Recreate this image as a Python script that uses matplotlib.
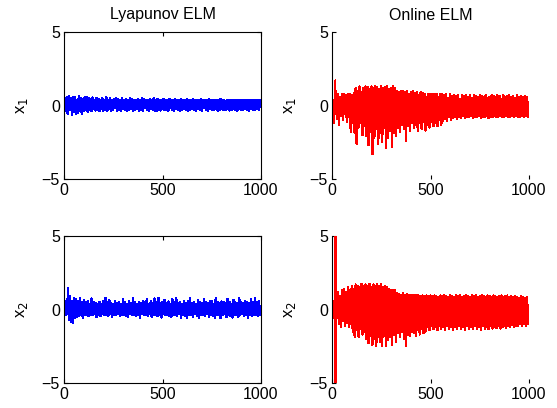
import numpy as np
import matplotlib
matplotlib.use("Agg")
import matplotlib.pyplot as plt

plt.rcParams["font.family"] = ["Liberation Sans", "DejaVu Sans"]

# sample times (denser around the start transient)
t = np.r_[[0, 5, 10, 16.5, 17, 17.5], np.arange(20, 1001, 5)]

# Lyapunov ELM, x1
lyap_x1 = [0.0, 0.5, -0.4, 0.6, -0.5, 0.4,
           -0.6, 0.65, -0.3, 0.5, -0.65, 0.6, -0.45, 0.55, -0.55, 0.4,
           -0.5, 0.62, -0.35, 0.5, -0.6, 0.45, -0.4, 0.6, -0.3, 0.55,
           -0.45, 0.5, -0.3, 0.45, -0.4, 0.55, -0.25, 0.4, -0.35, 0.5,
           -0.3, 0.45, -0.4, 0.35, -0.25, 0.5, -0.35, 0.4, -0.3, 0.55,
           -0.35, 0.4, -0.25, 0.5, -0.4, 0.35, -0.3, 0.45, -0.2, 0.5,
           -0.35, 0.45, -0.3, 0.4, -0.4, 0.5, -0.25, 0.35, -0.3, 0.45,
           -0.4, 0.4, -0.3, 0.5, -0.25, 0.45, -0.35, 0.4, -0.3, 0.35,
           -0.25, 0.45, -0.4, 0.4, -0.3, 0.5, -0.35, 0.45, -0.2, 0.4,
           -0.3, 0.35, -0.35, 0.45, -0.25, 0.4, -0.3, 0.5, -0.35, 0.4,
           -0.4, 0.45, -0.3, 0.35, -0.35, 0.4, -0.25, 0.45, -0.3, 0.4,
           -0.3, 0.4, -0.35, 0.45, -0.2, 0.35, -0.3, 0.4, -0.35, 0.45,
           -0.25, 0.4, -0.3, 0.35, -0.35, 0.45, -0.3, 0.4, -0.25, 0.35,
           -0.3, 0.45, -0.35, 0.4, -0.3, 0.35, -0.25, 0.45, -0.3, 0.4,
           -0.35, 0.4, -0.25, 0.35, -0.3, 0.45, -0.35, 0.4, -0.2, 0.35,
           -0.3, 0.4, -0.35, 0.45, -0.25, 0.35, -0.3, 0.4, -0.3, 0.35,
           -0.25, 0.4, -0.35, 0.35, -0.3, 0.45, -0.25, 0.4, -0.3, 0.35,
           -0.3, 0.35, -0.25, 0.4, -0.35, 0.35, -0.3, 0.4, -0.25, 0.35,
           -0.3, 0.4, -0.35, 0.35, -0.25, 0.4, -0.3, 0.35, -0.3, 0.4,
           -0.25, 0.35, -0.3, 0.4, -0.35, 0.35, -0.25, 0.4, -0.3, 0.35,
           -0.3, 0.4, -0.25, 0.35, -0.3, 0.35, -0.1]

# Lyapunov ELM, x2
lyap_x2 = [0.0, 0.6, -0.4, 0.5, -0.3, 0.4,
           1.45, -0.7, 0.9, -0.85, 0.6, -0.9, 0.8, -0.6, 0.7, -0.5,
           0.6, -0.45, 0.75, -0.4, 0.5, -0.55, 0.65, -0.35, 0.5, -0.4,
           0.55, -0.45, 0.4, -0.35, 0.75, -0.4, 0.5, -0.3, 0.45, -0.5,
           0.4, -0.35, 0.5, -0.45, 0.35, -0.3, 0.6, -0.4, 0.8, -0.35,
           0.5, -0.45, 0.65, -0.3, 0.45, -0.5, 0.4, -0.35, 0.55, -0.4,
           0.45, -0.3, 0.5, -0.45, 0.35, -0.4, 0.7, -0.35, 0.5, -0.45,
           0.4, -0.5, 0.55, -0.3, 0.45, -0.4, 0.8, -0.35, 0.5, -0.45,
           0.35, -0.4, 0.5, -0.55, 0.45, -0.3, 0.6, -0.4, 0.5, -0.35,
           0.7, -0.45, 0.4, -0.3, 0.55, -0.5, 0.45, -0.35, 0.75, -0.4,
           0.5, -0.45, 0.8, -0.35, 0.45, -0.55, 0.5, -0.3, 0.65, -0.4,
           0.45, -0.35, 0.55, -0.45, 0.4, -0.5, 0.7, -0.35, 0.5, -0.4,
           0.8, -0.45, 0.45, -0.3, 0.5, -0.55, 0.4, -0.35, 0.6, -0.45,
           0.45, -0.6, 0.55, -0.35, 0.75, -0.4, 0.45, -0.5, 0.5, -0.3,
           0.4, -0.45, 0.65, -0.55, 0.5, -0.35, 0.45, -0.4, 0.7, -0.45,
           0.5, -0.3, 0.45, -0.5, 0.6, -0.35, 0.55, -0.45, 0.4, -0.55,
           0.75, -0.4, 0.5, -0.35, 0.45, -0.6, 0.55, -0.4, 0.5, -0.3,
           0.45, -0.5, 0.7, -0.35, 0.5, -0.45, 0.4, -0.55, 0.65, -0.4,
           0.5, -0.35, 0.45, -0.5, 0.75, -0.4, 0.5, -0.3, 0.45, -0.45,
           0.6, -0.4, 0.5, -0.55, 0.45, -0.35, 0.7, -0.45, 0.5, -0.4,
           0.8, -0.35, 0.5, -0.45, 0.6, -0.4, 0.2]

# Online ELM, x1
online_x1 = [0.0, 0.4, -1.2, 0.6, 1.7, -0.6,
             0.7, -0.9, 0.8, -1.3, 0.6, -0.7, 0.75, -1.0, 0.8, -0.6,
             0.7, -1.1, 0.8, -0.8, 0.75, -1.8, 0.7, -1.2, 0.85, -1.9,
             1.2, -2.6, 1.0, -1.5, 1.3, -1.2, 0.9, -2.0, 1.2, -1.4,
             1.3, -2.1, 1.25, -2.7, 1.1, -1.8, 1.3, -3.3, 1.2, -2.2,
             1.3, -1.6, 1.25, -2.6, 1.1, -1.9, 1.3, -2.5, 1.2, -1.5,
             1.25, -2.9, 1.3, -2.2, 1.1, -1.7, 1.2, -2.8, 1.3, -1.9,
             1.2, -2.1, 0.95, -1.5, 0.9, -1.8, 1.0, -1.3, 0.95, -1.6,
             0.9, -2.4, 0.95, -1.4, 0.75, -1.7, 0.9, -1.2, 0.95, -1.5,
             0.85, -1.3, 0.9, -1.7, 0.7, -1.2, 0.9, -1.6, 0.85, -1.1,
             0.8, -1.7, 0.6, -1.3, 0.8, -1.5, 0.75, -1.1, 0.8, -1.4,
             0.75, -1.2, 0.8, -1.4, 0.55, -1.0, 0.8, -1.3, 0.75, -1.05,
             0.7, -0.9, 0.75, -1.05, 0.5, -0.8, 0.75, -0.95, 0.65, -0.85,
             0.7, -0.8, 0.65, -0.9, 0.7, -0.75, 0.45, -0.85, 0.7, -0.7,
             0.65, -0.85, 0.7, -0.75, 0.6, -0.8, 0.7, -0.7, 0.5, -0.85,
             0.7, -0.75, 0.65, -0.8, 0.6, -0.7, 0.7, -0.85, 0.65, -0.75,
             0.6, -0.8, 0.7, -0.7, 0.5, -0.85, 0.6, -0.75, 0.7, -0.8,
             0.65, -0.7, 0.6, -0.8, 0.7, -0.75, 0.65, -0.7, 0.45, -0.8,
             0.7, -0.75, 0.6, -0.7, 0.65, -0.8, 0.7, -0.75, 0.6, -0.7,
             0.65, -0.8, 0.5, -0.7, 0.7, -0.75, 0.6, -0.8, 0.65, -0.7,
             0.6, -0.75, 0.65, -0.7, 0.6, -0.75, 0.2]

# Online ELM, x2 (huge transient near t=17)
online_x2 = [0.0, 0.6, -0.6, 0.3, 50.0, -8.0,
             1.1, -0.6, 1.2, -1.0, 0.9, -1.2, 1.3, -0.8, 1.4, -1.1,
             1.2, -0.9, 1.5, -1.2, 1.3, -1.0, 1.6, -1.5, 1.4, -1.9,
             1.7, -1.4, 1.6, -1.85, 1.5, -1.3, 1.75, -1.7, 1.6, -1.5,
             1.7, -2.0, 1.6, -2.3, 1.75, -1.8, 1.5, -2.4, 1.7, -2.0,
             1.6, -2.5, 1.75, -1.9, 1.6, -2.2, 1.7, -2.5, 1.55, -1.8,
             1.6, -2.5, 1.5, -2.1, 1.4, -1.9, 1.3, -2.4, 1.35, -1.7,
             1.3, -2.2, 1.1, -1.6, 1.05, -1.9, 1.0, -1.5, 1.1, -2.0,
             1.0, -2.5, 1.05, -1.7, 1.0, -1.8, 0.95, -1.5, 1.0, -1.6,
             0.95, -1.8, 1.0, -1.4, 0.95, -1.7, 0.9, -1.3, 0.95, -1.6,
             0.9, -1.5, 0.95, -1.2, 0.9, -1.4, 0.95, -1.1, 0.9, -1.35,
             0.95, -1.2, 0.9, -1.4, 0.85, -1.1, 0.95, -1.3, 0.9, -1.2,
             0.95, -1.4, 0.9, -1.1, 0.85, -1.3, 0.95, -1.2, 0.9, -1.4,
             0.85, -1.2, 0.95, -1.35, 0.9, -1.1, 0.95, -1.3, 0.85, -1.2,
             0.9, -1.4, 0.95, -1.15, 0.9, -1.3, 0.85, -1.2, 0.95, -1.35,
             0.9, -1.1, 0.95, -1.3, 0.85, -1.2, 0.9, -1.4, 0.95, -1.15,
             0.9, -1.3, 0.85, -1.2, 0.95, -1.35, 0.9, -1.1, 0.85, -1.3,
             0.95, -1.2, 0.9, -1.25, 0.85, -1.1, 0.9, -1.3, 0.95, -1.2,
             0.85, -1.15, 0.9, -1.25, 0.95, -1.1, 0.85, -1.2, 0.9, -1.05,
             0.85, -1.2, 0.9, -1.1, 0.85, -1.15, 0.8, -1.0, 0.9, -1.1,
             0.85, -1.0, 0.8, -1.1, 0.85, -0.95, 0.3]

titles = ["Lyapunov ELM", "Online ELM"]
ylabels = ["x$_1$", "x$_2$"]

fig = plt.figure(figsize=(5.57, 4.08), dpi=100)
W, H = 557, 408
lefts = [64, 332]
tops = [32, 236]
aw, ah = 197, 147

series = [[lyap_x1, online_x1], [lyap_x2, online_x2]]
colors = ["#0000ff", "#ff0000"]

for r in range(2):
    for c in range(2):
        ax = fig.add_axes([lefts[c] / W, (H - tops[r] - ah) / H, aw / W, ah / H])
        ax.plot(t, series[r][c], color=colors[c], lw=0.9, antialiased=False)
        ax.set_xlim(0, 1000)
        ax.set_ylim(-5, 5)
        ax.set_xticks([0, 500, 1000])
        ax.set_yticks([-5, 0, 5])
        ax.tick_params(direction="in", length=3, width=0.8, labelsize=11.5, pad=3)
        ax.set_ylabel(ylabels[r], fontsize=12, labelpad=8)
        if r == 0:
            ax.set_title(titles[c], fontsize=11.5, pad=9)
        if c == 0:
            ax.tick_params(top=True, right=True)
            for s in ax.spines.values():
                s.set_linewidth(0.8)
        else:
            for s in ["top", "right", "bottom"]:
                ax.spines[s].set_visible(False)
            ax.spines["left"].set_linewidth(0.8)

fig.savefig("out.png", dpi=100)
